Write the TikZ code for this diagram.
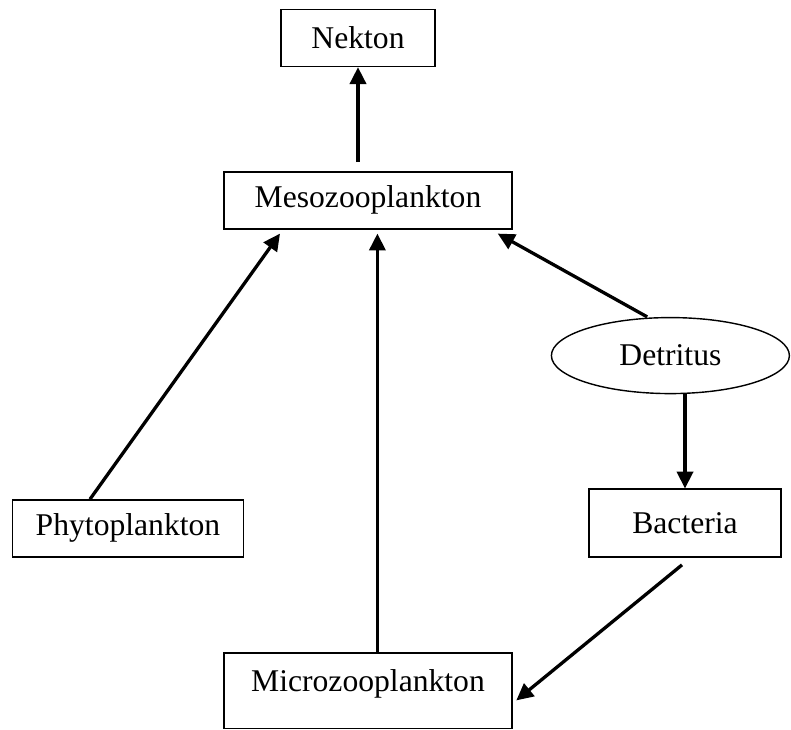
\documentclass[tikz,border=0pt]{standalone}
\usepackage{fontspec}
\setmainfont{Liberation Serif}
\usetikzlibrary{arrows.meta, calc, positioning, shapes.geometric}

\begin{document}
\begin{tikzpicture}[line width=1pt,
    every node/.style={font=\fontsize{22.5}{27}\selectfont},
    box/.style={draw, rectangle, minimum height=1.425cm, inner sep=0pt},
    blob/.style={draw, ellipse, minimum width=5.95cm, minimum height=1.9cm, inner sep=0pt},
    feed/.style={line width=2.35pt, -{Triangle[length=12pt, width=11.5pt]}}]
        \useasboundingbox (0,0) rectangle (19.775,18.25);
        \node[box, minimum width=3.85cm] (nekton) at (8.95,17.3) {Nekton};
        \node[box, minimum width=7.2cm] (meso) at (9.2,13.24) {Mesozooplankton};
        \node[box, minimum width=5.775cm] (phyto) at (3.2,5.04) {Phytoplankton};
        \node[box, minimum width=7.2cm, minimum height=1.89cm, text depth=0.52cm] (micro) at (9.2,0.98) {Microzooplankton};
        \node[blob] (detritus) at (16.76,9.36) {Detritus};
        \node[box, minimum width=4.8cm, minimum height=1.7cm] (bacteria) at (17.125,5.17) {Bacteria};
        \draw[feed, shorten <=0.225cm] (meso.north -| nekton) -- (nekton.south);
        \draw[feed] ([xshift=-0.95cm]phyto.north) -- ([xshift=-2.2cm, yshift=-0.1cm]meso.south);
        \draw[feed] ([xshift=0.235cm]micro.north) -- ([xshift=0.235cm, yshift=-0.1cm]meso.south);
        \draw[feed] ([xshift=-0.58cm]detritus.north) -- ([xshift=-0.375cm, yshift=-0.1cm]meso.south east);
        \draw[feed] (detritus.south -| bacteria) -- (bacteria.north);
        \draw[feed] ([xshift=-0.075cm, yshift=-0.175cm]bacteria.south) -- ([xshift=0.09cm, yshift=-0.24cm]micro.east);
    \end{tikzpicture}
\end{document}
